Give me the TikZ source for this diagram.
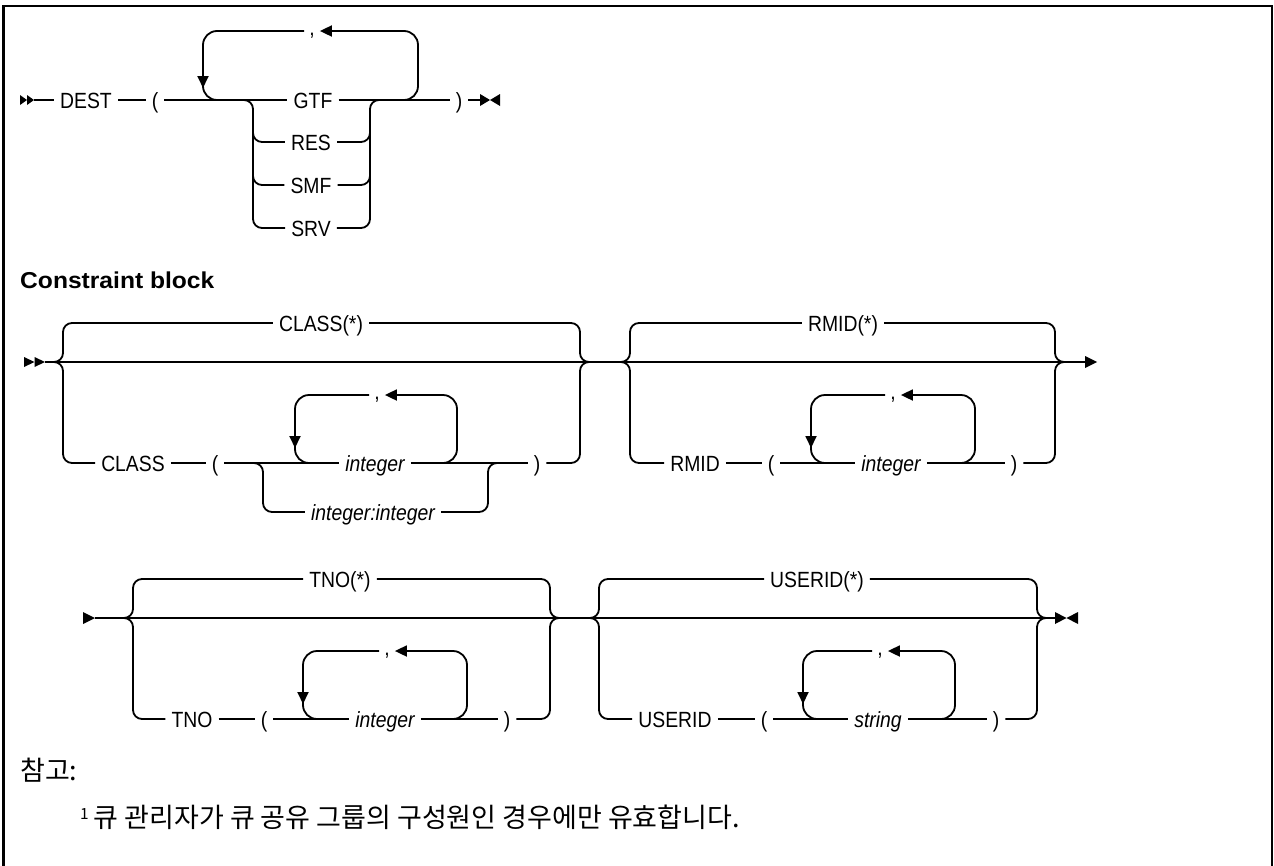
\documentclass[tikz,border=0pt]{standalone}
\usepackage{fontspec}
\setmainfont{Liberation Sans}[FakeStretch=0.88]
\newfontfamily\headfont{Liberation Sans}[FakeStretch=1.07]
\newfontfamily\krfont{Noto Sans CJK KR}
\usetikzlibrary{arrows.meta}
\newcommand\rrsize{\fontsize{22}{26}\selectfont}
\tikzset{
  rrline/.style={line width=1.8pt},
  loopar/.style={rrline, rounded corners=14pt, -{Triangle[length=12pt,width=11pt]}},
  loopnp/.style={rrline, rounded corners=14pt},
  brk/.style={rrline, rounded corners=9pt},
  kwd/.style={font=\rrsize, inner xsep=6pt, inner ysep=0pt, text height=16pt, text depth=0pt},
  vard/.style={kwd, font=\rrsize\itshape},
  cmma/.style={font=\rrsize, inner xsep=5pt, inner ysep=0pt, anchor=base},
  krtext/.style={font=\krfont\fontsize{27}{32}\selectfont, inner sep=0pt, anchor=west},
}
\begin{document}
\begin{tikzpicture}[x=1pt,y=-1pt]
\useasboundingbox (0,0) rectangle (1274,865);
% frame
\draw[line width=2.5pt] (3.5,866) -- (3.5,6) -- (1272,6) -- (1272,866);

% ================= DEST =================
\fill (20,95) -- (27,100) -- (20,105) -- cycle;
\fill (27,95) -- (34,100) -- (27,105) -- cycle;
\coordinate (s0) at (34,100);
\node[kwd] (dest) at (86,100) {DEST};
\node[kwd] (dl) at (155,100) {(};
\node[kwd] (gtf) at (313,100) {GTF};
\node[kwd] (res) at (311,142) {RES};
\node[kwd] (smf) at (311,185) {SMF};
\node[kwd] (srv) at (311,228) {SRV};
\node[kwd] (dr) at (459,100) {)};
\coordinate (e0) at (480,100);
\draw[rrline] (s0) -- (dest);
\draw[rrline] (dest) -- (dl);
\draw[rrline] (dl) -- (gtf);
\draw[rrline] (gtf) -- (dr);
\draw[rrline] (dr) -- (e0);
\fill (480,94) -- (490,100) -- (480,106) -- cycle;
\fill (500,94) -- (490,100) -- (500,106) -- cycle;
% choice brackets
\draw[brk] (241,100) -| (253,228) -- (srv);
\draw[brk] (253,125) |- (res);
\draw[brk] (253,168) |- (smf);
\draw[brk] (srv) -| (370,100) -- (382,100);
\draw[brk] (res) -| (370,120);
\draw[brk] (smf) -| (370,163);
% repeat loop
\coordinate (t0) at (0,31);
\node[cmma] (c0) at (312,35) {,};
\draw[loopar] (400,100) -| (418,31) -- (c0.east |- t0);
\draw[loopar] (c0.west |- t0) -| (203,88);
\draw[loopnp] (203,86) |- (222,100);

% ================= Constraint block =================
\node[anchor=west, inner sep=0pt, font=\headfont\bfseries\fontsize{23}{27}\selectfont] (cb) at (20,280) {Constraint block};

% ---- row 1
\fill (24,357) -- (34.5,362) -- (24,367) -- cycle;
\fill (34.5,357) -- (45,362) -- (34.5,367) -- cycle;
\coordinate (s1) at (45,362);
\coordinate (e1) at (1085,362);
\draw[rrline] (s1) -- (e1);
\fill (1085,356) -- (1097,362) -- (1085,368) -- cycle;

% CLASS group
\node[kwd] (clsstar) at (321,323) {CLASS(*)};
\draw[brk] (50,362) -| (63,323) -- (clsstar);
\draw[brk] (clsstar) -| (580,362) -- (592,362);
\node[kwd] (cls) at (133,463) {CLASS};
\node[kwd] (cl) at (215,463) {(};
\node[vard] (cint) at (375,463) {integer};
\node[vard] (cii) at (373,512) {integer:integer};
\node[kwd] (cr) at (537,463) {)};
\draw[brk] (50,362) -| (63,463) -- (cls);
\draw[rrline] (cls) -- (cl);
\draw[rrline] (cl) -- (cint);
\draw[rrline] (cint) -- (cr);
\draw[brk] (cr) -| (580,362) -- (592,362);
\draw[brk] (250,463) -| (263,512) -- (cii);
\draw[brk] (cii) -| (488,463) -- (500,463);
\coordinate (t1) at (0,395);
\node[cmma] (c1) at (377,399) {,};
\draw[loopar] (440,463) -| (457,395) -- (c1.east |- t1);
\draw[loopar] (c1.west |- t1) -| (295,448);
\draw[loopnp] (295,446) |- (312,463);

% RMID group
\node[kwd] (rmstar) at (843,323) {RMID(*)};
\draw[brk] (617,362) -| (630,323) -- (rmstar);
\draw[brk] (rmstar) -| (1055,362) -- (1067,362);
\node[kwd] (rm) at (695,463) {RMID};
\node[kwd] (rl) at (771,463) {(};
\node[vard] (rint) at (891,463) {integer};
\node[kwd] (rmr) at (1014,463) {)};
\draw[brk] (617,362) -| (630,463) -- (rm);
\draw[rrline] (rm) -- (rl);
\draw[rrline] (rl) -- (rint);
\draw[rrline] (rint) -- (rmr);
\draw[brk] (rmr) -| (1055,362) -- (1067,362);
\node[cmma] (c2) at (893,399) {,};
\draw[loopar] (958,463) -| (975,395) -- (c2.east |- t1);
\draw[loopar] (c2.west |- t1) -| (811,448);
\draw[loopnp] (811,446) |- (828,463);

% ---- row 2
\fill (83,612) -- (95,618) -- (83,624) -- cycle;
\coordinate (s2) at (95,618);
\coordinate (e2) at (1055,618);
\draw[rrline] (s2) -- (e2);
\fill (1055,612) -- (1066.5,618) -- (1055,624) -- cycle;
\fill (1078,612) -- (1066.5,618) -- (1078,624) -- cycle;

% TNO group
\node[kwd] (tnostar) at (340,579) {TNO(*)};
\draw[brk] (120,618) -| (133,579) -- (tnostar);
\draw[brk] (tnostar) -| (550,618) -- (562,618);
\node[kwd] (tno) at (192,719) {TNO};
\node[kwd] (tl) at (264,719) {(};
\node[vard] (tint) at (385,719) {integer};
\node[kwd] (tr) at (507,719) {)};
\draw[brk] (120,618) -| (133,719) -- (tno);
\draw[rrline] (tno) -- (tl);
\draw[rrline] (tl) -- (tint);
\draw[rrline] (tint) -- (tr);
\draw[brk] (tr) -| (550,618) -- (562,618);
\coordinate (t2) at (0,651);
\node[cmma] (c3) at (387,655) {,};
\draw[loopar] (450,719) -| (467,651) -- (c3.east |- t2);
\draw[loopar] (c3.west |- t2) -| (303,704);
\draw[loopnp] (303,702) |- (320,719);

% USERID group
\node[kwd] (usstar) at (817,579) {USERID(*)};
\draw[brk] (586,618) -| (599,579) -- (usstar);
\draw[brk] (usstar) -| (1037,618) -- (1049,618);
\node[kwd] (us) at (675,719) {USERID};
\node[kwd] (ul) at (764,719) {(};
\node[vard] (ustr) at (878,719) {string};
\node[kwd] (ur) at (996,719) {)};
\draw[brk] (586,618) -| (599,719) -- (us);
\draw[rrline] (us) -- (ul);
\draw[rrline] (ul) -- (ustr);
\draw[rrline] (ustr) -- (ur);
\draw[brk] (ur) -| (1037,618) -- (1049,618);
\node[cmma] (c4) at (880,655) {,};
\draw[loopar] (938,719) -| (955,651) -- (c4.east |- t2);
\draw[loopar] (c4.west |- t2) -| (803,704);
\draw[loopnp] (803,702) |- (820,719);

% ================= notes =================
\node[krtext] (nt) at (20,770) {참고:};
\node[krtext] (fn) at (80,817) {{\rrsize\textsuperscript{1}}\,큐 관리자가 큐 공유 그룹의 구성원인 경우에만 유효합니다.};
\end{tikzpicture}
\end{document}
